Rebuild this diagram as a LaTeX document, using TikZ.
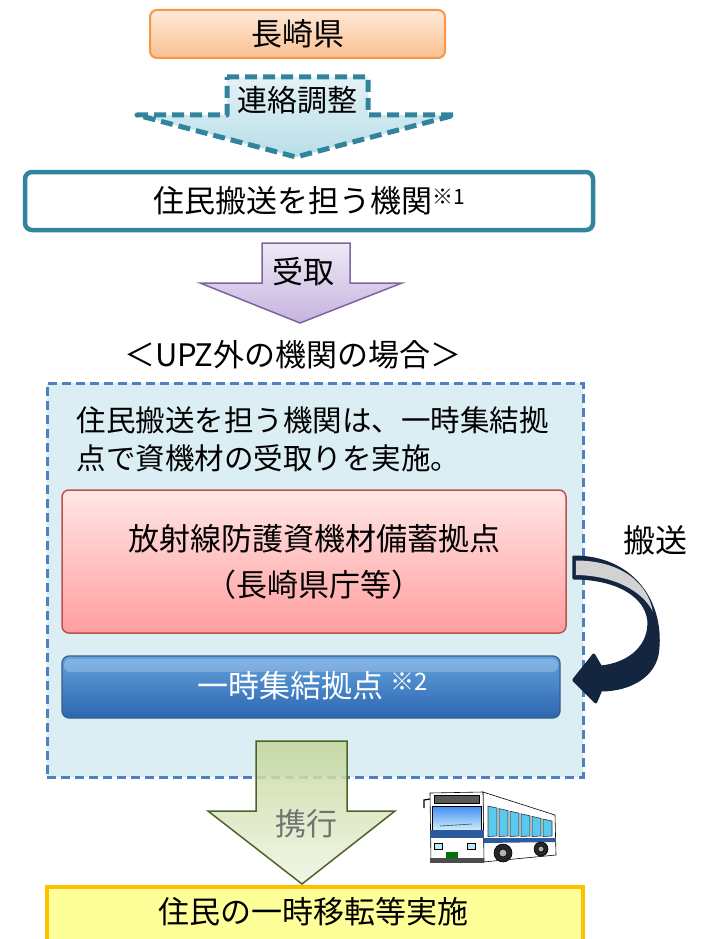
\documentclass[tikz,border=0pt]{standalone}
\usepackage{fontspec}
\setmainfont{Noto Sans CJK JP}
\usepackage{tikz}
\usetikzlibrary{positioning,calc}
\definecolor{prefline}{HTML}{F79646}
\definecolor{preftop}{HTML}{FDE9D9}
\definecolor{prefbot}{HTML}{FAC090}
\definecolor{teal}{HTML}{31849B}
\definecolor{tealtop}{HTML}{E4F2F7}
\definecolor{tealbot}{HTML}{B7DEE8}
\definecolor{violet}{HTML}{8064A2}
\definecolor{violettop}{HTML}{EEEAF6}
\definecolor{violetbot}{HTML}{C6B3DF}
\definecolor{zoneline}{HTML}{4F81BD}
\definecolor{zonebg}{HTML}{DBEEF4}
\definecolor{stockline}{HTML}{C0504D}
\definecolor{stocktop}{HTML}{FFE6E6}
\definecolor{stockbot}{HTML}{FF9E9E}
\definecolor{hubtop}{HTML}{62A2DE}
\definecolor{hubbot}{HTML}{2D66B0}
\definecolor{hubline}{HTML}{385D8A}
\definecolor{navy}{HTML}{14263F}
\definecolor{olive}{HTML}{4F6228}
\definecolor{olivetop}{HTML}{C3D69B}
\definecolor{olivebot}{HTML}{F0F5E2}
\definecolor{goldline}{HTML}{FFC000}
\definecolor{goldbg}{HTML}{FFFF99}
\definecolor{busblue}{HTML}{2C5AA0}
\definecolor{glass}{HTML}{5BC8EE}

\begin{document}
\begin{tikzpicture}[x=1pt,y=-1pt,
    every node/.style={font=\fontsize{31}{40}\selectfont},
    box/.style={rounded corners=7pt,align=center,inner sep=0pt},
    prefbox/.style={box,draw=prefline,line width=2pt,top color=preftop,bottom color=prefbot},
    agencybox/.style={box,draw=teal,line width=4.5pt,fill=white},
    stockbox/.style={box,draw=stockline,line width=1.5pt,top color=stocktop,bottom color=stockbot},
    hubbox/.style={box,draw=hubline,line width=1.2pt,top color=hubtop,bottom color=hubbot,text=white},
    resultbox/.style={draw=goldline,line width=4pt,fill=goldbg,inner sep=0pt},
    dasharrow/.style={draw=teal,line width=5pt,line join=round,dash pattern=on 12pt off 6pt,top color=tealtop,bottom color=tealbot},
    blockarrow/.style={line width=1.5pt,line join=miter}
]
\clip (0,0) rectangle (701,939);

% prefecture and agency
\node[prefbox,minimum width=295pt,minimum height=48pt] (pref) at (297.5,34) {長崎県};
\draw[dasharrow] (227,77) -- (368,77) -- (368,115) -- (455,115) -- (296,157)
    -- (137,115) -- (227,115) -- cycle;
\node[font=\fontsize{30}{36}\selectfont] (liaison) at (297,100) {連絡調整};
\node[agencybox,minimum width=568pt,minimum height=58pt] (agency) at (309,201)
    {住民搬送を担う機関\raisebox{0.5ex}{\fontsize{21}{21}\selectfont ※1}};

\draw[blockarrow,draw=violet,top color=violettop,bottom color=violetbot]
    (262,243) -- (350,243) -- (350,283) -- (402,283) -- (300,323)
    -- (200,283) -- (262,283) -- cycle;
\node (receive) at (303,272) {受取};
\node (case) at (293,355) {＜UPZ外の機関の場合＞};

% outside-UPZ case
\node[draw=zoneline,fill=zonebg,line width=3pt,dash pattern=on 9pt off 5pt,
    minimum width=536pt,minimum height=394pt,inner sep=0pt] (zone) at (315,580) {};
\node[anchor=west,align=left,font=\fontsize{29.5}{38}\selectfont] (duty) at (73,439)
    {住民搬送を担う機関は、一時集結拠\\点で資機材の受取りを実施。};
\node[stockbox,minimum width=504pt,minimum height=143pt,font=\fontsize{31}{46}\selectfont]
    (stock) at (314,561.5) {放射線防護資機材備蓄拠点\\（長崎県庁等）};
\node[hubbox,minimum width=498pt,minimum height=62pt] (hub) at (311,687) {};
\fill[white,opacity=0.22,rounded corners=6pt] (64,659) rectangle (558,672);
\node[text=white] (hubtext) at (313,686)
    {一時集結拠点 \raisebox{0.45ex}{\fontsize{24}{24}\selectfont ※2}};

% curved transfer arrow
\begin{scope}[shift={(stock.east)}]
  \filldraw[navy,line width=3pt,line join=round]
      (7,-4.5) .. controls (64,-4.5) and (96,38.5) .. (91,88.5)
      .. controls (89,113.5) and (64,128.5) .. (34,128.5)
      -- (29,140.5) -- (7,118.5) -- (27,93.5) -- (34,105.5)
      .. controls (64,102.5) and (84,83.5) .. (82,58.5)
      .. controls (79,33.5) and (49,16.5) .. (7,16.5) -- cycle;
  \fill[gray!35] (9,-1) .. controls (58,-1) and (82,25) .. (86,50)
      .. controls (76,30) and (48,14) .. (9,13.5) -- cycle;
\end{scope}
\node[font=\fontsize{32}{36}\selectfont] (carry) at (655,540) {搬送};

% escort arrow and result
\draw[blockarrow,draw=olive,top color=olivetop,bottom color=olivebot,fill opacity=0.85]
    (256,741) -- (347,741) -- (347,811) -- (395,811) -- (302,884)
    -- (208,811) -- (256,811) -- cycle;
\node[text=black!55] (escort) at (306,824) {携行};
\node[resultbox,minimum width=536pt,minimum height=56pt] (result) at (315,915) {};
\node (resulttext) at (313,912) {住民の一時移転等実施};

% bus
\begin{scope}[line width=0.6pt]
  \filldraw[fill=white,draw=black] (483,792) -- (555,815) -- (556,855) -- (483,862) -- cycle;
  \foreach \i in {0,...,5} {
    \pgfmathsetmacro{\xa}{488+\i*11}
    \pgfmathsetmacro{\xb}{\xa+9}
    \filldraw[fill=glass,draw=black!80] (\xa,{806+\i*2.6}) -- (\xb,{808+\i*2.6}) -- (\xb,{836}) -- (\xa,{836.5}) -- cycle;
  }
  \fill[busblue] (483,838) -- (555,838) -- (555,842) -- (483,843) -- cycle;
  \filldraw[fill=white,draw=black] (430,793) -- (483,792) -- (484,862) -- (431,862) -- cycle;
  \filldraw[fill=black!65,draw=black] (434,795) rectangle (479,803);
  \filldraw[top color=glass!70!blue,bottom color=glass!30,draw=black] (432,806) rectangle (481,830);
  \draw[black!70] (440,826) -- (472,824);
  \fill[busblue] (430,830) rectangle (484,838);
  \filldraw[fill=glass!40,draw=black] (434,843) rectangle (442,849);
  \filldraw[fill=glass!40,draw=black] (467,843) rectangle (475,849);
  \fill[green!45!black] (446,852) rectangle (458,858);
  \fill[black!70] (430,858) rectangle (484,863);
  \filldraw[fill=black!85,draw=black] (503,853) circle (9);
  \filldraw[fill=gray!60,draw=black] (503,853) circle (4);
  \filldraw[fill=black!85,draw=black] (541,849) circle (7);
  \filldraw[fill=gray!60,draw=black] (541,849) circle (3);
  \draw[line width=1.2pt] (430,799) -- (424,800) -- (424,808);
\end{scope}
\end{tikzpicture}
\end{document}
